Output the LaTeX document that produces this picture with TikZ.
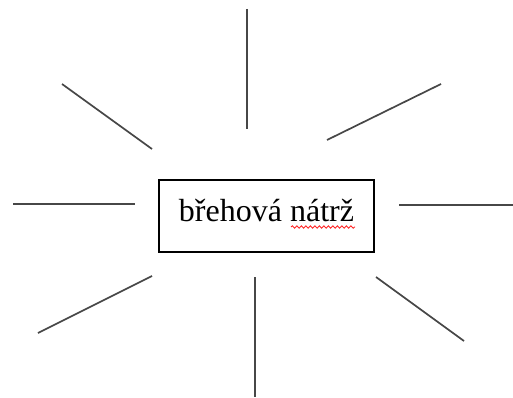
\documentclass[tikz,border=0pt]{standalone}
\usepackage{fontspec}
\setmainfont{Liberation Serif}
\usetikzlibrary{decorations.pathmorphing}

\begin{document}
\begin{tikzpicture}[x=1pt,y=-1pt,line width=1.2pt]
\tikzset{ray/.style={draw=black!72,line width=1.7pt},
  termbox/.style={draw=black,line width=1.4pt,minimum width=215pt,minimum height=72pt,
    text height=22pt,text depth=10.6pt,font=\fontsize{32}{38}\selectfont},
  squiggle/.style={draw=red!85,line width=0.9pt,
    decorate,decoration={snake,segment length=4.5pt,amplitude=1.2pt}}}
\useasboundingbox (0,0) rectangle (513,398);
% ---------- term in the middle ----------
\node[termbox] (term) at (266.5,216) {břehová nátrž};
\draw[squiggle] (291,227) -- (355,227);
% ---------- rays round it ----------
\foreach \xa/\ya/\xb/\yb in {247/9/247/129, 62/84/152/149, 327/140/441/84,
    13/204/135/204, 399/205/513/205, 38/333/152/276,
    255/277/255/397, 376/277/464/341}
  \draw[ray] (\xa,\ya) -- (\xb,\yb);
\end{tikzpicture}
\end{document}
